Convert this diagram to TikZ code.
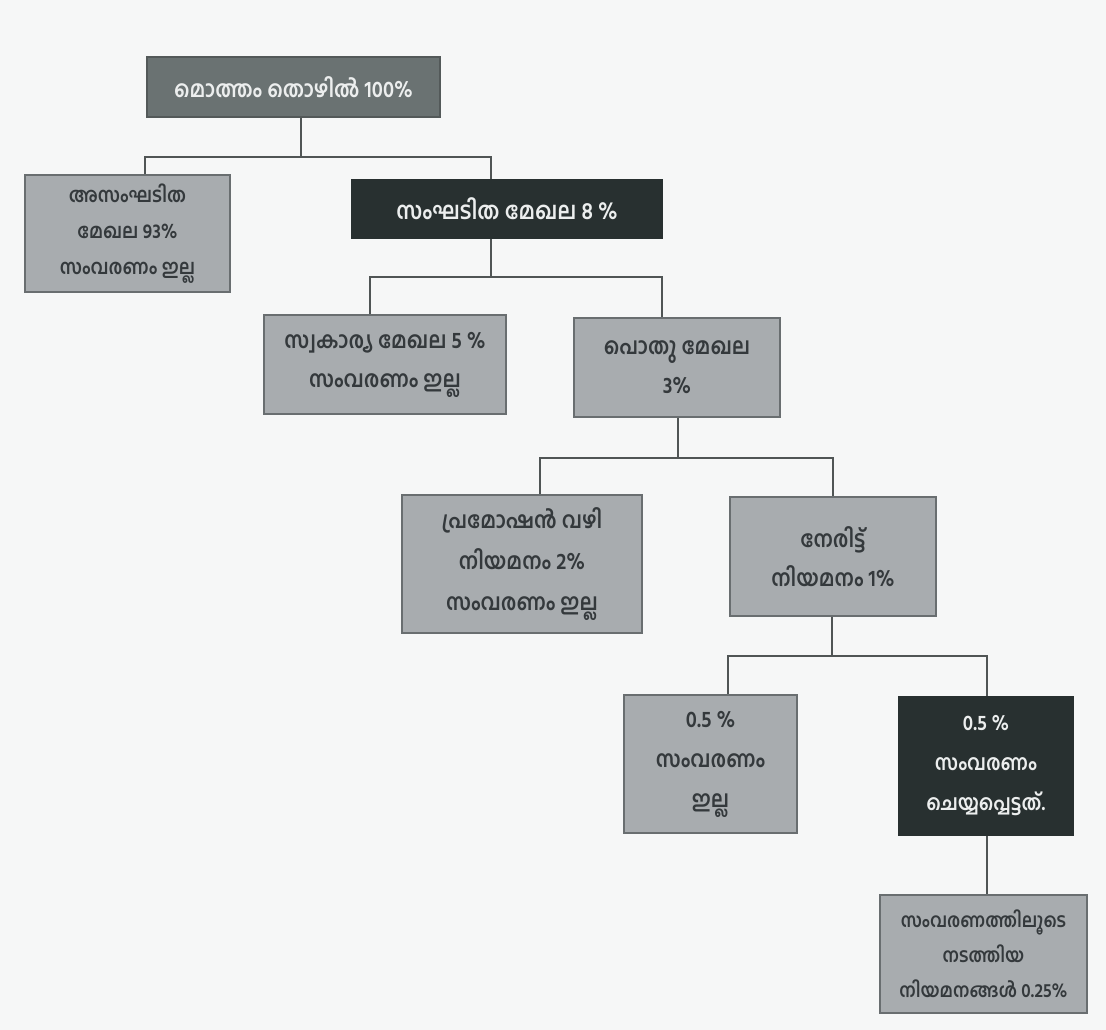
\documentclass[tikz,border=0pt]{standalone}
\usepackage{fontspec}
\newfontfamily\mlfont[Script=Malayalam, FakeStretch=0.88]{Hind Kochi}
\definecolor{bg}{RGB}{246,247,247}
\definecolor{lightfill}{RGB}{168,172,175}
\definecolor{lightedge}{RGB}{105,110,112}
\definecolor{midfill}{RGB}{106,114,114}
\definecolor{darkfill}{RGB}{40,48,48}
\definecolor{darktext}{RGB}{52,57,60}
\definecolor{lighttext}{RGB}{236,238,238}
\definecolor{linecol}{RGB}{80,85,85}
\newcommand{\fsz}[2]{\fontsize{#1}{#2}\selectfont}
\tikzset{
  box/.style={draw=lightedge, line width=1.6pt, align=center, inner sep=2pt,
    font=\mlfont\bfseries\fsz{23}{39}},
  lightbox/.style={box, fill=lightfill, text=darktext},
  midbox/.style={box, fill=midfill, draw=darkfill!80, text=lighttext},
  darkbox/.style={box, fill=darkfill, draw=darkfill, text=lighttext},
  conn/.style={draw=linecol, line width=1.4pt}
}
\begin{document}
\begin{tikzpicture}[x=1pt,y=-1pt]
\fill[bg] (0,0) rectangle (1106,1030);
\useasboundingbox (0,0) rectangle (1106,1030);
% nodes (centres and sizes in pixel units)
\node[midbox, minimum width=293pt, minimum height=60pt, font=\mlfont\bfseries\fsz{23}{39}] (top) at (293.5,87) {മൊത്തം തൊഴിൽ 100\%};
\node[lightbox, minimum width=205pt, minimum height=117pt, font=\mlfont\bfseries\fsz{20.5}{36}] (asang) at (127.5,233.5) {അസംഘടിത\\മേഖല 93\%\\സംവരണം ഇല്ല};
\node[darkbox, minimum width=310pt, minimum height=58pt, font=\mlfont\bfseries\fsz{24}{39}] (sang) at (507,209) {സംഘടിത മേഖല 8 \%};
\node[lightbox, minimum width=242pt, minimum height=99pt] (swak) at (385,364.5) {സ്വകാര്യ മേഖല 5 \%\\സംവരണം ഇല്ല};
\node[lightbox, minimum width=206pt, minimum height=99pt] (pothu) at (677,367.5) {പൊതു മേഖല\\3\%};
\node[lightbox, minimum width=240pt, minimum height=138pt, font=\mlfont\bfseries\fsz{23}{41}] (prom) at (522,564) {പ്രമോഷൻ വഴി\\നിയമനം 2\%\\സംവരണം ഇല്ല};
\node[lightbox, minimum width=206pt, minimum height=119pt] (nerit) at (833,556.5) {നേരിട്ട്\\നിയമനം 1\%};
\node[lightbox, minimum width=173pt, minimum height=138pt, font=\mlfont\bfseries\fsz{23}{40}] (halfa) at (710.5,764) {0.5 \%\\സംവരണം\\ഇല്ല};
\node[darkbox, minimum width=174pt, minimum height=138pt, font=\mlfont\bfseries\fsz{21.5}{40}] (halfb) at (986,766) {0.5 \%\\സംവരണം\\ചെയ്യപ്പെട്ടത്.};
\node[lightbox, minimum width=207pt, minimum height=118pt, font=\mlfont\bfseries\fsz{19.5}{35}] (res) at (983.5,954) {സംവരണത്തിലൂടെ\\നടത്തിയ\\നിയമനങ്ങൾ 0.25\%};
% branch points
\coordinate (j1) at (301,157);
\coordinate (j1l) at (145,157);
\coordinate (j1r) at (491,157);
\coordinate (j2) at (491,277);
\coordinate (j2l) at (370,277);
\coordinate (j2r) at (662,277);
\coordinate (j3) at (678,458);
\coordinate (j3l) at (540,458);
\coordinate (j3r) at (833,458);
\coordinate (j4) at (832,656);
\coordinate (j4l) at (728,656);
\coordinate (j4r) at (987,656);
\coordinate (j5) at (987,800);
% connectors
\draw[conn] (top.south -| j1) -- (j1);
\draw[conn] (asang.north -| j1l) -- (j1l) -- (j1r) -- (sang.north -| j1r);
\draw[conn] (sang.south -| j2) -- (j2);
\draw[conn] (swak.north -| j2l) -- (j2l) -- (j2r) -- (pothu.north -| j2r);
\draw[conn] (pothu.south -| j3) -- (j3);
\draw[conn] (prom.north -| j3l) -- (j3l) -- (j3r) -- (nerit.north -| j3r);
\draw[conn] (nerit.south -| j4) -- (j4);
\draw[conn] (halfa.north -| j4l) -- (j4l) -- (j4r) -- (halfb.north -| j4r);
\draw[conn] (halfb.south -| j5) -- (res.north -| j5);
\end{tikzpicture}
\end{document}
